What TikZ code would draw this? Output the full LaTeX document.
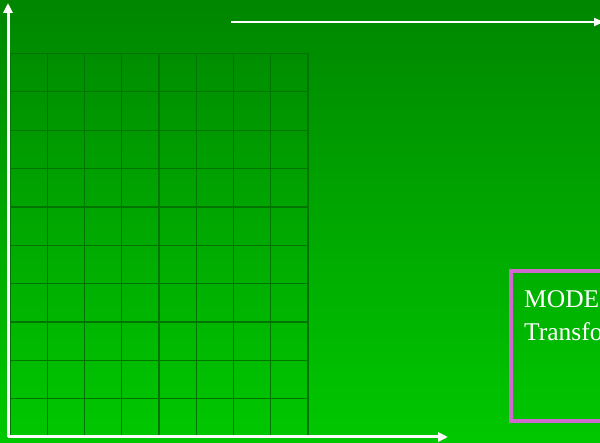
\documentclass[tikz,border=0pt]{standalone}
\usepackage{fontspec}
\setmainfont{Liberation Serif}
\usetikzlibrary{positioning,arrows.meta}
\definecolor{bgTop}{RGB}{0, 134, 0}
\definecolor{bgBottom}{RGB}{0, 200, 0}
\definecolor{gridGreen}{RGB}{0, 116, 0}
\definecolor{boxPink}{RGB}{208, 104, 208}

\begin{document}
\begin{tikzpicture}[x=1pt, y=-1pt,
    axis/.style={-{Triangle[length=10pt, width=9pt]}, white, line width=3pt},
    topline/.style={-{Triangle[length=10pt, width=8pt]}, white, line width=1.8pt},
    gridline/.style={gridGreen, line width=1.3pt},
    modelbox/.style={draw=boxPink, line width=3.6pt, minimum width=150pt, minimum height=150pt, anchor=north west, inner sep=0pt},
    modeltext/.style={white, font=\fontsize{25.5pt}{33pt}\selectfont, align=left, anchor=north west, inner sep=0pt}
  ]
  \useasboundingbox (0,0) rectangle (600,443);
  \clip (0,0) rectangle (600,443);
  \shade[top color=bgTop, bottom color=bgBottom] (0,0) rectangle (600,443);
  % grid
  \foreach \i in {0,...,8}
    \draw[gridline] (10+37.25*\i,53.5) -- (10+37.25*\i,437);
  \foreach \j in {0,...,10}
    \draw[gridline] (10,53.5+38.35*\j) -- (308,53.5+38.35*\j);
  % axes
  \coordinate (origin) at (8,437);
  \coordinate (ytip) at (8,3);
  \coordinate (xtip) at (448,437);
  \coordinate (topstart) at (231,22);
  \coordinate (topend) at (604,22);
  \draw[axis] (origin) -- (ytip);
  \draw[axis] (origin) -- (xtip);
  \draw[topline] (topstart) -- (topend);
  % model box
  \node[modelbox] (model) at (509,269) {};
  \node[modeltext] (modellabel) at (524,290) {MODE\\Transfo};
\end{tikzpicture}
\end{document}
